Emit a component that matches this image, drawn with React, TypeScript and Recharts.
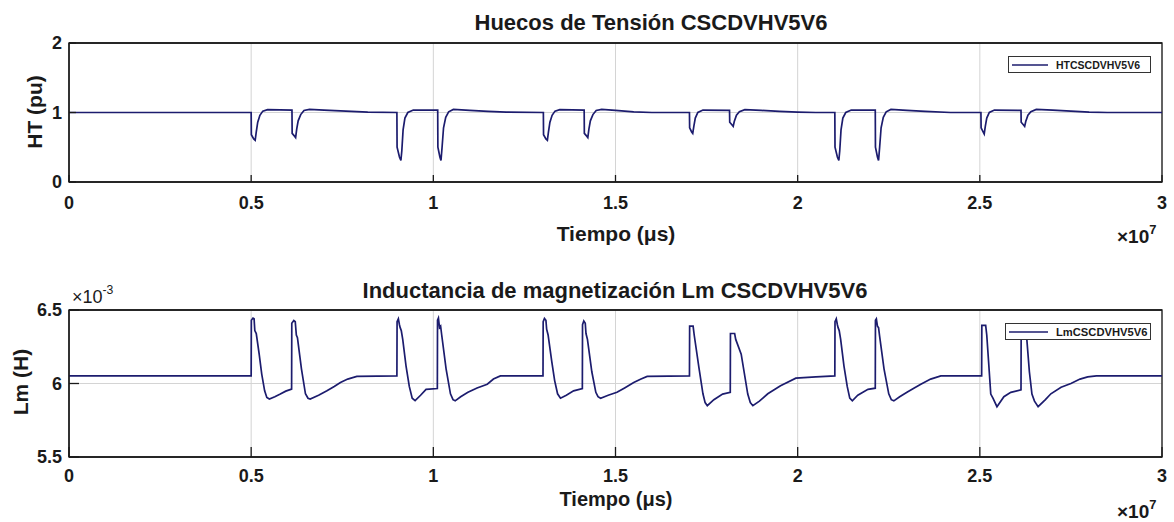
import React from "react";
import { LineChart, Line, XAxis, YAxis, CartesianGrid, Legend, ReferenceArea } from "recharts";

const FONT = "'Liberation Sans', Arial, Helvetica, sans-serif";
const INK = "#1a1a1a";
const TRAZO = "#1c1c6e";
const REJILLA = "#d4d4d4";

const W = 1174;
const H = 261;
const PLOT_LEFT = 69;
const PLOT_RIGHT = 1162;

// eje de tiempo en unidades de 10^7 μs
const ticksTiempo = [0, 0.5, 1, 1.5, 2, 2.5, 3];
const ticksHT = [0, 1, 2];
// Lm en unidades de 10^-3 H
const ticksLm = [5.5, 6, 6.5];

// [tiempo (×10^7 μs), tensión (pu)]
const huecosHT: [number, number][] = [
  [0, 1.0], [0.5, 1.0],
  [0.5005, 0.68], [0.507, 0.62], [0.511, 0.6], [0.514, 0.72], [0.518, 0.86], [0.524, 0.96], [0.532, 1.02], [0.545, 1.04], [0.612, 1.035],
  [0.6125, 0.7], [0.619, 0.66], [0.622, 0.64], [0.625, 0.76], [0.629, 0.88], [0.636, 0.97], [0.645, 1.03], [0.66, 1.045], [0.7, 1.035], [0.76, 1.02], [0.82, 1.006], [0.9, 1.0],
  [0.9005, 0.5], [0.907, 0.36], [0.911, 0.31], [0.9135, 0.45], [0.917, 0.75], [0.922, 0.92], [0.93, 1.0], [0.945, 1.035], [1.012, 1.035],
  [1.0125, 0.5], [1.018, 0.36], [1.021, 0.31], [1.024, 0.5], [1.028, 0.78], [1.034, 0.93], [1.042, 1.01], [1.055, 1.045], [1.1, 1.03], [1.15, 1.015], [1.2, 1.005], [1.302, 1.0],
  [1.3025, 0.68], [1.309, 0.62], [1.313, 0.6], [1.316, 0.72], [1.32, 0.86], [1.326, 0.96], [1.334, 1.02], [1.347, 1.04], [1.414, 1.035],
  [1.4145, 0.7], [1.421, 0.66], [1.424, 0.64], [1.427, 0.76], [1.431, 0.88], [1.438, 0.97], [1.447, 1.03], [1.462, 1.045], [1.5, 1.03], [1.55, 1.01], [1.6, 1.0], [1.703, 1.0],
  [1.7035, 0.78], [1.709, 0.72], [1.712, 0.7], [1.715, 0.8], [1.719, 0.92], [1.726, 1.0], [1.74, 1.035], [1.813, 1.03],
  [1.8135, 0.86], [1.82, 0.82], [1.823, 0.8], [1.826, 0.87], [1.832, 0.96], [1.84, 1.01], [1.855, 1.04], [1.9, 1.03], [1.95, 1.015], [2.0, 1.005], [2.05, 1.0], [2.102, 1.0],
  [2.1025, 0.5], [2.109, 0.36], [2.113, 0.31], [2.1155, 0.45], [2.119, 0.75], [2.124, 0.92], [2.132, 1.0], [2.147, 1.035], [2.213, 1.035],
  [2.2135, 0.5], [2.219, 0.36], [2.222, 0.31], [2.225, 0.5], [2.229, 0.78], [2.235, 0.93], [2.243, 1.01], [2.256, 1.045], [2.3, 1.03], [2.35, 1.015], [2.42, 1.0], [2.503, 1.0],
  [2.5035, 0.78], [2.509, 0.72], [2.512, 0.69], [2.515, 0.8], [2.519, 0.92], [2.526, 1.0], [2.54, 1.035], [2.613, 1.03],
  [2.6135, 0.86], [2.62, 0.82], [2.623, 0.8], [2.626, 0.87], [2.632, 0.96], [2.64, 1.01], [2.655, 1.045], [2.7, 1.035], [2.75, 1.02], [2.8, 1.005], [2.85, 1.0],
  [3.0, 1.0],
];

// [tiempo (×10^7 μs), Lm (×10^-3 H)]
const inductanciaLm: [number, number][] = [
  [0, 6.052], [0.5, 6.052],
  [0.5005, 6.43], [0.505, 6.445], [0.508, 6.44], [0.51, 6.36], [0.514, 6.34], [0.522, 6.2], [0.529, 6.064], [0.537, 5.95], [0.543, 5.905], [0.55, 5.894], [0.565, 5.91], [0.58, 5.928], [0.595, 5.948], [0.611, 5.962],
  [0.6115, 6.41], [0.617, 6.428], [0.621, 6.42], [0.624, 6.33], [0.627, 6.312], [0.638, 6.1], [0.649, 5.93], [0.656, 5.9], [0.662, 5.894], [0.685, 5.92], [0.708, 5.95], [0.728, 5.98], [0.745, 6.007], [0.765, 6.03], [0.79, 6.048], [0.9, 6.052],
  [0.9005, 6.42], [0.904, 6.44], [0.907, 6.4], [0.909, 6.38], [0.912, 6.36], [0.916, 6.3], [0.925, 6.12], [0.934, 5.98], [0.942, 5.9], [0.95, 5.883], [0.965, 5.92], [0.98, 5.96], [1.011, 5.966],
  [1.0115, 6.43], [1.014, 6.445], [1.017, 6.38], [1.02, 6.39], [1.023, 6.33], [1.035, 6.1], [1.047, 5.93], [1.054, 5.89], [1.06, 5.882], [1.075, 5.91], [1.095, 5.94], [1.12, 5.97], [1.148, 5.995], [1.165, 6.03], [1.184, 6.052], [1.301, 6.052],
  [1.3015, 6.42], [1.305, 6.443], [1.309, 6.43], [1.311, 6.37], [1.315, 6.33], [1.325, 6.15], [1.333, 6.02], [1.341, 5.93], [1.349, 5.9], [1.365, 5.92], [1.385, 5.95], [1.409, 5.966],
  [1.4095, 6.4], [1.413, 6.425], [1.417, 6.41], [1.419, 6.34], [1.423, 6.3], [1.435, 6.08], [1.446, 5.94], [1.452, 5.91], [1.459, 5.9], [1.48, 5.92], [1.504, 5.94], [1.525, 5.97], [1.55, 6.007], [1.57, 6.03], [1.587, 6.048], [1.703, 6.052],
  [1.7035, 6.39], [1.713, 6.39], [1.716, 6.33], [1.729, 6.108], [1.74, 5.93], [1.746, 5.87], [1.752, 5.849], [1.77, 5.89], [1.794, 5.928], [1.815, 5.94],
  [1.8155, 6.34], [1.827, 6.34], [1.83, 6.3], [1.845, 6.2], [1.863, 5.928], [1.87, 5.87], [1.877, 5.849], [1.895, 5.88], [1.918, 5.93], [1.953, 5.984], [1.995, 6.036], [2.05, 6.045], [2.102, 6.052],
  [2.1025, 6.42], [2.106, 6.44], [2.109, 6.4], [2.111, 6.38], [2.114, 6.36], [2.118, 6.3], [2.127, 6.12], [2.136, 5.98], [2.143, 5.9], [2.15, 5.882], [2.165, 5.92], [2.193, 5.96], [2.213, 5.968],
  [2.2135, 6.43], [2.216, 6.44], [2.219, 6.39], [2.222, 6.38], [2.225, 6.32], [2.237, 6.1], [2.25, 5.93], [2.257, 5.89], [2.264, 5.882], [2.28, 5.91], [2.3, 5.94], [2.32, 5.97], [2.338, 5.995], [2.365, 6.03], [2.393, 6.052], [2.505, 6.052],
  [2.5055, 6.396], [2.516, 6.396], [2.519, 6.33], [2.524, 6.15], [2.53, 5.928], [2.536, 5.9], [2.547, 5.842], [2.566, 5.91], [2.585, 5.94], [2.613, 5.957],
  [2.6135, 6.4], [2.627, 6.4], [2.629, 6.3], [2.636, 6.08], [2.643, 5.928], [2.65, 5.88], [2.66, 5.842], [2.68, 5.89], [2.695, 5.93], [2.723, 5.974], [2.75, 6.0], [2.775, 6.03], [2.796, 6.045], [2.82, 6.052],
  [3.0, 6.052],
];

const dataHT = huecosHT.map(([t, v]) => ({ t, valor: v }));
const dataLm = inductanciaLm.map(([t, v]) => ({ t, valor: v }));

const fmt = (v: number) => String(parseFloat(v.toFixed(2)));

interface PanelProps {
  data: { t: number; valor: number }[];
  nombre: string;
  yDomain: [number, number];
  yTicks: number[];
  plotTop: number;
  plotBottom: number;
  tickLen: number;
  labelGap: number;
  legend: { left: number; top: number; width: number; fontSize: number; lineW: number };
}

function Panel({ data, nombre, yDomain, yTicks, plotTop, plotBottom, tickLen, labelGap, legend }: PanelProps) {
  const xAxisH = 40;
  const yAxisW = 60;
  const tickStyle = { fill: INK, fontSize: 18, fontWeight: 700, fontFamily: FONT };
  const line = { stroke: INK, strokeWidth: 1.3 };
  // línea base de las etiquetas a labelGap px bajo el eje; marcas hacia dentro
  const xMargin = tickLen + labelGap - 18 * 0.71;
  const yMargin = tickLen + 7;

  return (
    <LineChart
      width={W}
      height={H}
      data={data}
      margin={{
        top: plotTop,
        right: W - PLOT_RIGHT,
        bottom: H - plotBottom - xAxisH,
        left: PLOT_LEFT - yAxisW,
      }}
    >
      <CartesianGrid stroke={REJILLA} strokeWidth={1} />
      <XAxis
        dataKey="t"
        type="number"
        domain={[0, 3]}
        ticks={ticksTiempo}
        interval={0}
        height={xAxisH}
        tickFormatter={fmt}
        tick={tickStyle}
        axisLine={line}
        tickLine={line}
        tickSize={-tickLen}
        tickMargin={xMargin}
      />
      <XAxis
        xAxisId="arriba"
        orientation="top"
        dataKey="t"
        type="number"
        domain={[0, 3]}
        ticks={ticksTiempo}
        interval={0}
        height={1}
        tick={false}
        axisLine={line}
        tickLine={line}
        tickSize={-tickLen}
      />
      <YAxis
        type="number"
        domain={yDomain}
        ticks={yTicks}
        interval={0}
        width={yAxisW}
        tickFormatter={fmt}
        tick={tickStyle}
        axisLine={line}
        tickLine={line}
        tickSize={-tickLen}
        tickMargin={yMargin}
      />
      <YAxis
        yAxisId="derecha"
        orientation="right"
        type="number"
        domain={yDomain}
        ticks={yTicks}
        interval={0}
        width={0}
        tick={false}
        axisLine={line}
        tickLine={line}
        tickSize={-tickLen}
      />
      {/* caja completa de los ejes */}
      <ReferenceArea
        x1={0}
        x2={3}
        y1={yDomain[0]}
        y2={yDomain[1]}
        fill="none"
        fillOpacity={0}
        stroke={INK}
        strokeWidth={1.3}
        ifOverflow="visible"
      />
      <Line
        type="linear"
        dataKey="valor"
        name={nombre}
        stroke={TRAZO}
        strokeWidth={1.7}
        dot={false}
        activeDot={false}
        isAnimationActive={false}
      />
      <Legend
        layout="vertical"
        align="center"
        verticalAlign="middle"
        wrapperStyle={{ left: legend.left, top: legend.top, width: legend.width }}
        content={({ payload }) => (
          <div
            style={{
              display: "flex",
              alignItems: "center",
              height: 17,
              border: "1px solid #333",
              background: "#fff",
              fontFamily: FONT,
              fontWeight: 700,
              fontSize: legend.fontSize,
              color: INK,
              boxSizing: "border-box",
            }}
          >
            {(payload || []).map((p: any) => (
              <React.Fragment key={String(p.value)}>
                <svg width={legend.lineW + 8} height={10} style={{ marginLeft: 3 }}>
                  <line x1={0} x2={legend.lineW} y1={5} y2={5} stroke={p.color} strokeWidth={1.4} />
                </svg>
                <span>{p.value}</span>
              </React.Fragment>
            ))}
          </div>
        )}
      />
    </LineChart>
  );
}

function Exponente({ x, y, base, exp, size, bold }: { x: number; y: number; base: string; exp: string; size: number; bold: boolean }) {
  return (
    <text x={x} y={y} fontSize={size} fontWeight={bold ? 700 : 400} fill={INK} fontFamily={FONT}>
      {base}
      <tspan dy={-size * 0.5} fontSize={size * 0.68}>
        {exp}
      </tspan>
    </text>
  );
}

export default function App() {
  const label = { fontFamily: FONT, fontWeight: 700, fill: INK };
  return (
    <div style={{ position: "absolute", left: 0, top: 0, width: W, height: 522, background: "#fff" }}>
      <div style={{ position: "absolute", left: 0, top: 0 }}>
        <Panel
          data={dataHT}
          nombre="HTCSCDVHV5V6"
          yDomain={[0, 2]}
          yTicks={ticksHT}
          plotTop={42}
          plotBottom={182}
          tickLen={7}
          labelGap={27}
          legend={{ left: 1008, top: 56, width: 143, fontSize: 10.5, lineW: 36 }}
        />
      </div>
      <div style={{ position: "absolute", left: 0, top: H }}>
        <Panel
          data={dataLm}
          nombre="LmCSCDVHV5V6"
          yDomain={[5.5, 6.5]}
          yTicks={ticksLm}
          plotTop={48}
          plotBottom={196}
          tickLen={10}
          labelGap={25}
          legend={{ left: 1005, top: 62, width: 146, fontSize: 11.2, lineW: 39 }}
        />
      </div>
      <svg width={W} height={522} style={{ position: "absolute", left: 0, top: 0, pointerEvents: "none" }}>
        <text x={651} y={30} textAnchor="middle" fontSize={22} {...label}>
          Huecos de Tensión CSCDVHV5V6
        </text>
        <text x={616} y={241} textAnchor="middle" fontSize={21} {...label}>
          Tiempo (μs)
        </text>
        <text x={42} y={112} textAnchor="middle" fontSize={21} transform="rotate(-90 42 112)" {...label}>
          HT (pu)
        </text>
        <Exponente x={1117} y={243} base="×10" exp="7" size={19} bold />

        <text x={615} y={298} textAnchor="middle" fontSize={22} {...label}>
          Inductancia de magnetización Lm CSCDVHV5V6
        </text>
        <text x={616} y={506} textAnchor="middle" fontSize={20} {...label}>
          Tiempo (μs)
        </text>
        <text x={27.5} y={382} textAnchor="middle" fontSize={21} transform="rotate(-90 27.5 382)" {...label}>
          Lm (H)
        </text>
        <Exponente x={72} y={303} base="×10" exp="-3" size={18} bold={false} />
        <Exponente x={1117} y={518} base="×10" exp="7" size={19} bold />
      </svg>
    </div>
  );
}
